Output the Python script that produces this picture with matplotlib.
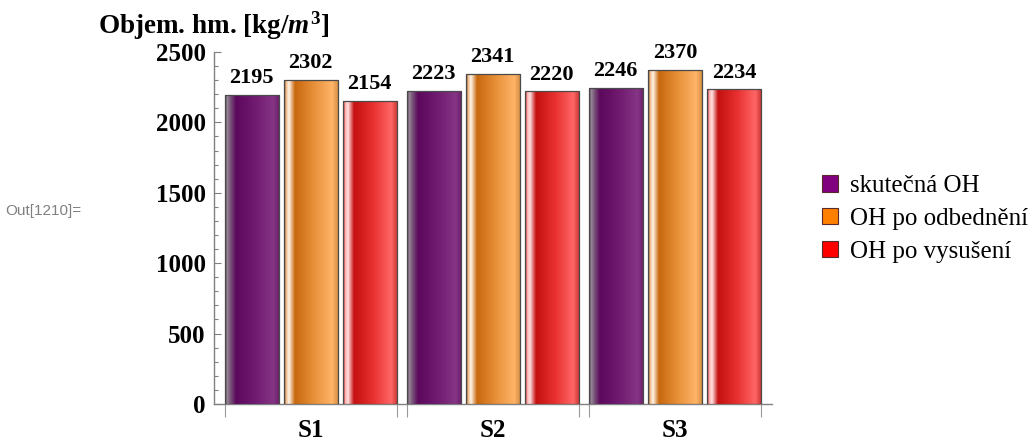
import numpy as np
import matplotlib.pyplot as plt
from matplotlib.colors import LinearSegmentedColormap
from matplotlib.patches import Patch

plt.rcParams['font.family'] = ['Liberation Serif', 'DejaVu Serif']
plt.rcParams['mathtext.fontset'] = 'custom'
plt.rcParams['mathtext.rm'] = 'Liberation Serif:bold'
plt.rcParams['mathtext.it'] = 'Liberation Serif:italic:bold'
plt.rcParams['mathtext.bf'] = 'Liberation Serif:bold'

# data
groups = ['S1', 'S2', 'S3']
series = ['skutečná OH', 'OH po odbednění', 'OH po vysušení']
skutecna = [2195, 2223, 2246]
odbedneni = [2302, 2341, 2370]
vysuseni = [2154, 2220, 2234]
values = [skutecna, odbedneni, vysuseni]

base_colors = ['#800080', '#ff8000', '#ff0000']
# glossy gradients across the bar width (position, colour)
gradients = [
    [(0.0, '#4a3a4a'), (0.04, '#9a8a9a'), (0.09, '#7a5a7a'), (0.2, '#5c085c'),
     (0.55, '#701a70'), (0.88, '#853585'), (1.0, '#6a206a')],
    [(0.0, '#a05010'), (0.04, '#f0c090'), (0.09, '#fff4e8'), (0.2, '#c8680e'),
     (0.55, '#e8913a'), (0.88, '#ffb468'), (1.0, '#d08a40')],
    [(0.0, '#b01010'), (0.04, '#ffb0b0'), (0.09, '#ffe0e0'), (0.2, '#c41010'),
     (0.55, '#e83030'), (0.88, '#ff6666'), (1.0, '#c83030')],
]

fig = plt.figure(figsize=(10.36, 4.41), dpi=100)
ax = fig.add_axes([0.2066, 0.084, 0.539, 0.798])

x = np.arange(1, len(groups) + 1)
w = 0.297
step = 0.324
grad = np.linspace(0, 1, 256).reshape(1, -1)

for i, vals in enumerate(values):
    bars = ax.bar(x + (i - 1) * step, vals, width=w, color=base_colors[i],
                  edgecolor='none', zorder=2)
    cmap = LinearSegmentedColormap.from_list(f'g{i}', gradients[i])
    for b in bars:
        bx, by = b.get_x(), b.get_y()
        im = ax.imshow(grad, cmap=cmap, aspect='auto', zorder=3,
                       extent=[bx, bx + b.get_width(), by, by + b.get_height()])
        im.set_clip_path(b)
    ax.bar(x + (i - 1) * step, vals, width=w, color='none',
           edgecolor='#4a4a4a', linewidth=0.9, zorder=4)
    ax.bar_label(bars, labels=[str(v) for v in vals], padding=5,
                 fontsize=16, fontweight='bold', zorder=5)

ax.set_xlim(0.470, 3.536)
ax.set_ylim(0, 2500)

for s in ['top', 'right']:
    ax.spines[s].set_visible(False)
for s in ['left', 'bottom']:
    ax.spines[s].set_color('#808080')
    ax.spines[s].set_linewidth(1.0)

ax.set_yticks(np.arange(0, 2501, 500))
ax.set_yticks(np.arange(0, 2501, 100), minor=True)
ax.tick_params(axis='y', which='major', direction='in', length=5, width=0.8,
               color='#808080', labelsize=18, pad=6)
ax.tick_params(axis='y', which='minor', direction='in', length=3, width=0.8,
               color='#808080')
for lab in ax.get_yticklabels():
    lab.set_fontweight('bold')

half = step + w / 2
edges = np.concatenate([x - half, x + half])
ax.set_xticks(edges)
ax.set_xticklabels([''] * len(edges))
ax.set_xticks(x, minor=True)
ax.set_xticklabels(groups, minor=True, fontsize=18, fontweight='bold')
ax.tick_params(axis='x', which='major', direction='out', length=9, width=0.8,
               color='#999999')
ax.tick_params(axis='x', which='minor', length=0, pad=11)

fig.text(98 / 1036, 1 - 26 / 441, 'Objem. hm. [kg/$m^{3}$]', fontsize=19.5,
         fontweight='bold', va='center', ha='left')
fig.text(5 / 1036, 1 - 211 / 441, 'Out[1210]=', fontsize=11, color='#808080',
         family=['Liberation Sans', 'DejaVu Sans'], va='center', ha='left')

handles = [Patch(facecolor=c, edgecolor='#5a2a2a', linewidth=0.8) for c in base_colors]
fig.legend(handles, series, loc='center left', bbox_to_anchor=(822 / 1036, 1 - 219 / 441),
           frameon=False, fontsize=18, handlelength=0.64, handleheight=0.64,
           handletextpad=0.48, labelspacing=0.42, borderpad=0, borderaxespad=0)

fig.savefig('out.png', dpi=100)
